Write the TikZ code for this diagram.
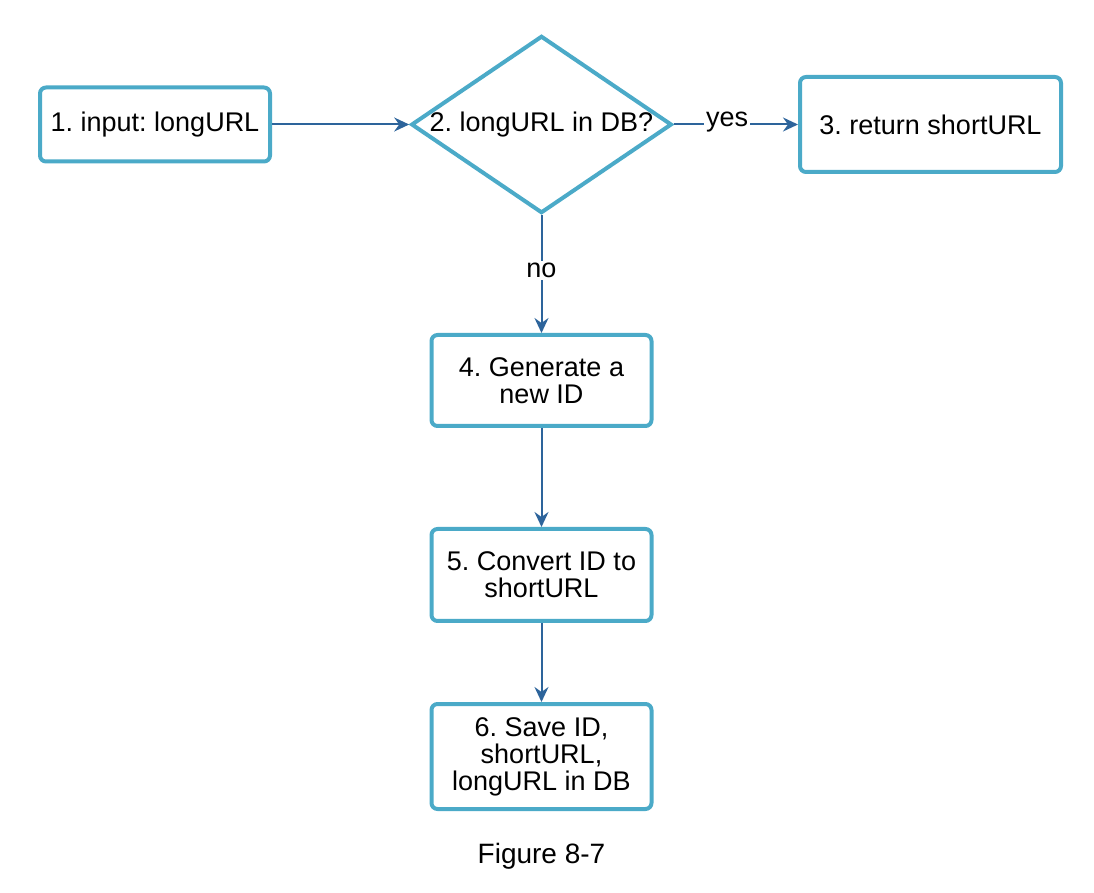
\documentclass[tikz,border=0pt]{standalone}
\usepackage{fontspec}
\setmainfont{Liberation Sans}
\usetikzlibrary{shapes.geometric, arrows.meta}
\definecolor{boxblue}{RGB}{75,170,200}
\definecolor{arrowblue}{RGB}{45,100,155}
\frenchspacing
\tikzset{
  every node/.style={font=\fontsize{13.5}{13.5}\selectfont},
  stepbox/.style={draw=boxblue, line width=2pt, rounded corners=3pt, align=center, inner sep=0pt},
  decision/.style={diamond, draw=boxblue, line width=2pt, inner sep=0pt, aspect=1.47, minimum width=130pt, minimum height=88pt},
  flow/.style={->, draw=arrowblue, line width=1pt},
  tag/.style={fill=white, inner sep=1pt}
}
\begin{document}
\begin{tikzpicture}[>={Stealth[length=7.5pt, width=7pt, inset=2.5pt]}, x=.5pt, y=-.5pt]
\useasboundingbox (0,0) rectangle (1094,893);
\node[stepbox, minimum width=115pt, minimum height=37pt] (input) at (155,124.5) {1. input: longURL};
\node[decision] (check) at (541.5,124.5) {2. longURL in DB?};
\node[stepbox, minimum width=130.5pt, minimum height=47.5pt] (found) at (930.5,124.5) {3. return shortURL};
\node[stepbox, minimum width=110pt, minimum height=45.5pt] (newid) at (541.5,380.5) {4. Generate a\\new ID};
\node[stepbox, minimum width=110pt, minimum height=46pt] (convert) at (541.5,575) {5. Convert ID to\\shortURL};
\node[stepbox, minimum width=110pt, minimum height=52.5pt] (save) at (541.5,756.5) {6. Save ID,\\shortURL,\\longURL in DB};
\node[font=\fontsize{14}{14}\selectfont] (caption) at (541.5,856) {Figure 8-7};
\draw[flow] (input) -- (check);
\draw[flow] (check) -- node[tag, pos=.43, yshift=1pt] (yes) {yes} (found);
\draw[flow] (check) -- node[tag, pos=.47] (no) {no} (newid);
\draw[flow] (newid) -- (convert);
\draw[flow] (convert) -- (save);
\end{tikzpicture}
\end{document}
